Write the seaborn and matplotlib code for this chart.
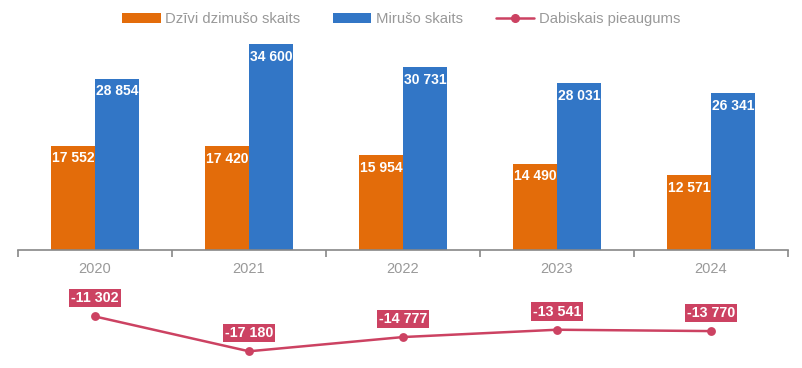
import numpy as np
import pandas as pd
import seaborn as sns
import matplotlib.pyplot as plt
from matplotlib.patches import Patch
from matplotlib.lines import Line2D

# data
years = ['2020', '2021', '2022', '2023', '2024']
births = [17552, 17420, 15954, 14490, 12571]
deaths = [28854, 34600, 30731, 28031, 26341]
natural = [-11302, -17180, -14777, -13541, -13770]
series = ['Dzīvi dzimušo skaits', 'Mirušo skaits']
line_name = 'Dabiskais pieaugums'

orange = '#E36C0A'
blue = '#3276C6'
pink = '#CC4262'
grey = '#999999'

sns.set_theme(style='white')
plt.rcParams['font.family'] = ['Liberation Sans', 'DejaVu Sans']

df = pd.DataFrame({
    'year': years * 2,
    'value': births + deaths,
    'series': [series[0]] * 5 + [series[1]] * 5,
})
df_net = pd.DataFrame({'year': years, 'net': natural})

fig = plt.figure(figsize=(8.02, 3.68), dpi=100)
ax = fig.add_axes([18 / 802, 0, 770 / 802, 1])

sns.barplot(data=df, x='year', y='value', hue='series', order=years,
            hue_order=series, palette={series[0]: orange, series[1]: blue},
            width=0.57, gap=0, saturation=1, legend=False, linewidth=0,
            edgecolor='none', ax=ax)
sns.pointplot(data=df_net, x='year', y='net', order=years, color=pink,
              markers='o', markersize=5, linewidth=1.8, errorbar=None, ax=ax)

# bar value labels
for cont in ax.containers:
    for bar in cont:
        h = bar.get_height()
        ax.annotate(f'{h:,.0f}'.replace(',', ' '), (bar.get_x(), h),
                    xytext=(0.8, -4), textcoords='offset points',
                    ha='left', va='top', color='white', fontsize=10,
                    fontweight='bold')

# natural increase labels
for i, v in enumerate(natural):
    ax.annotate(f'{v:,.0f}'.replace(',', ' '), (i, v),
                xytext=(0, 8), textcoords='offset points',
                ha='center', va='bottom', color='white', fontsize=10.3,
                fontweight='bold',
                bbox=dict(boxstyle='square,pad=0.15', fc=pink, ec='none'))

ax.set_xlim(-0.5, 4.5)
ax.set_ylim(-20000, 42110)
ax.set_xlabel('')
ax.set_ylabel('')
ax.set_yticks([])
for s in ['top', 'left', 'right']:
    ax.spines[s].set_visible(False)
ax.spines['bottom'].set_position(('data', 0))
ax.spines['bottom'].set_color('#888888')
ax.spines['bottom'].set_linewidth(1.2)
ax.set_xticks(range(len(years)))
ax.set_xticklabels(years)
ax.set_xticks(np.arange(-0.5, 5, 1), minor=True)
ax.tick_params(axis='x', which='major', length=0, pad=9, labelsize=10.5,
               labelcolor=grey)
ax.tick_params(axis='x', which='minor', bottom=True, length=5, width=1.2,
               color='#888888', direction='out')

handles = [Patch(fc=orange, ec='none'), Patch(fc=blue, ec='none'),
           Line2D([], [], color=pink, lw=1.8, marker='o', markersize=5.5)]
leg = fig.legend(handles, series + [line_name], loc='center',
                 bbox_to_anchor=(0.5, 1 - 19 / 368), ncol=3, frameon=False,
                 fontsize=10.7, handlelength=2.6, handleheight=0.7,
                 handletextpad=0.3, columnspacing=2.2)
for t in leg.get_texts():
    t.set_color(grey)

fig.savefig('out.png', dpi=100)
